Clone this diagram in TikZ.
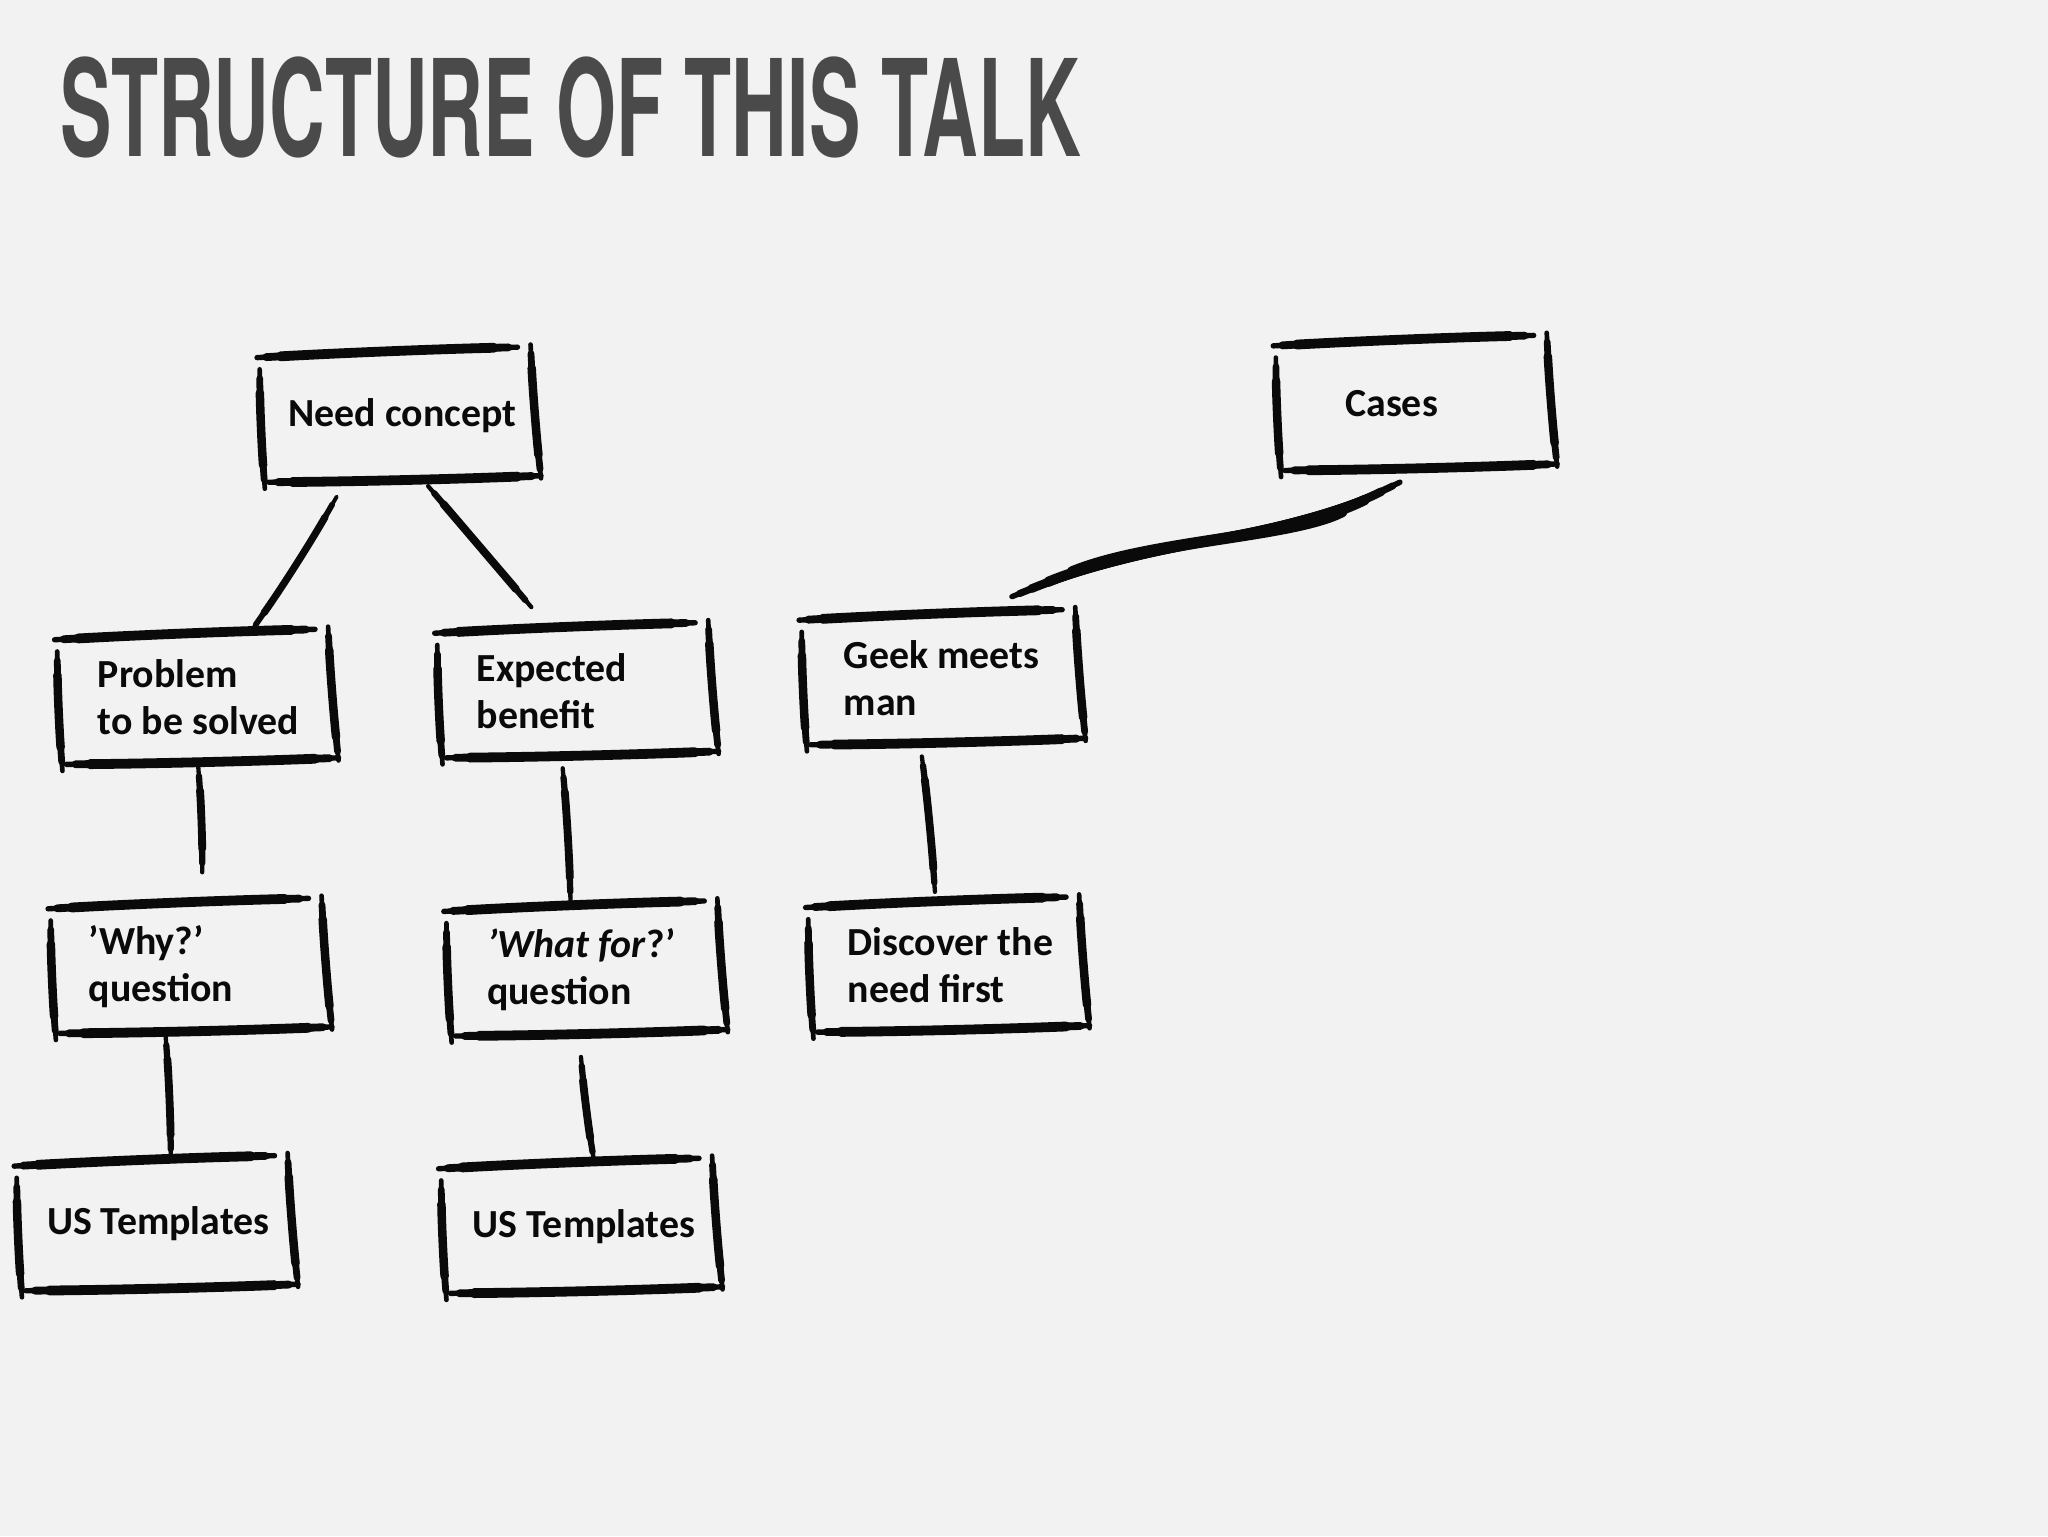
\documentclass[tikz,border=0pt]{standalone}
\usepackage{fontspec}
\setmainfont{Carlito}
\newfontfamily\titlefont{TeX Gyre Heros}
\usetikzlibrary{calc}
\definecolor{bg}{HTML}{F2F2F2}
\definecolor{ink}{HTML}{0A0A0A}
\definecolor{titlegray}{HTML}{4A4A4A}
\newcommand\boxfont{\fontsize{30.5}{36}\selectfont\bfseries}
\makeatletter
\newcommand\sln[1]{\mbox{\spaceskip\z@skip\xspaceskip\z@skip #1}}
\makeatother
% hand-drawn tapered stroke: #1 start, #2 end, #3 bend, #4 max width
\newcommand\skl[4]{%
  \pgfmathsetmacro\wa{#4*0.55}\pgfmathsetmacro\wb{#4*0.8}%
  \foreach \w/\s in {\wa/0, \wb/7, #4/18}{%
    \draw[ink, line width=\w pt, line cap=round, shorten <=\s pt, shorten >=\s pt]
      (#1) .. controls ($(#1)!0.33!(#2)!#3pt!90:(#2)$) and ($(#1)!0.67!(#2)!#3pt!90:(#2)$) .. (#2);
  }%
}
\newcommand\skbox[1]{%
  \coordinate (#1-t1) at ($(#1.north west)+(-1,6)$);
  \coordinate (#1-t2) at ($(#1.north east)+(-16,-2)$);
  \coordinate (#1-l1) at ($(#1.north west)+(1,15)$);
  \coordinate (#1-l2) at ($(#1.south west)+(5,6)$);
  \coordinate (#1-r1) at ($(#1.north east)+(-6,-4)$);
  \coordinate (#1-r2) at ($(#1.south east)+(2,-2)$);
  \coordinate (#1-b1) at ($(#1.south west)+(8,1)$);
  \coordinate (#1-b2) at ($(#1.south east)+(2,-4)$);
  \skl{#1-t1}{#1-t2}{1}{7.5}
  \skl{#1-l1}{#1-l2}{-1}{6.5}
  \skl{#1-r1}{#1-r2}{-1}{6.5}
  \skl{#1-b1}{#1-b2}{-1}{7.5}
}
\tikzset{
  skb/.style 2 args={inner xsep=#1, inner ysep=0pt, text width=#2, align=left,
    minimum height=100pt, font=\boxfont, text=ink},
}
\begin{document}
\begin{tikzpicture}[x=1pt,y=-1pt]
\useasboundingbox (0,0) rectangle (1568,1176);
\fill[bg] (0,0) rectangle (1568,1176);

\node[anchor=west, inner sep=0pt, text=titlegray] (title) at (46,82)
  {\scalebox{0.573}[1]{\titlefont\fontsize{103}{110}\selectfont\bfseries STRUCTURE OF THIS TALK}};

\node[skb={23pt}{168pt}] (nc) at (305,318) {\sln{Need concept}};
\node[skb={54pt}{106pt}] (cases) at (1083,309) {\sln{Cases}};
\node[skb={32pt}{150pt}] (problem) at (150,534) {\sln{Problem}\\\sln{to be solved}};
\node[skb={31pt}{152pt}] (expected) at (441,529) {\sln{Expected}\\\sln{benefit}};
\node[skb={33pt}{150pt}] (geek) at (721,519) {\sln{Geek meets}\\\sln{man}};
\node[skb={30pt}{154pt}] (why) at (145,740) {\sln{’Why?’}\\\sln{question}};
\node[skb={32pt}{150pt}] (whatfor) at (448,742) {\sln{\textit{’What for}?’}\\\sln{question}};
\node[skb={31pt}{152pt}] (discover) at (725,739) {\sln{Discover the}\\\sln{need first}};
\node[skb={24pt}{166pt}] (us1) at (119,937) {\sln{US Templates}};
\node[skb={25pt}{164pt}] (us2) at (444,939) {\sln{US Templates}};

\foreach \n in {nc,cases,problem,expected,geek,why,whatfor,discover,us1,us2}{\skbox{\n}}

% connectors
\coordinate (c1a) at ($(nc.south west)+(60,12)$);
\coordinate (c1b) at ($(problem.north west)+(149,0)$);
\skl{c1a}{c1b}{2}{5.5}
\coordinate (c2a) at ($(nc.south west)+(130,4)$);
\coordinate (c2b) at ($(expected.north west)+(73,-14)$);
\skl{c2a}{c2b}{0}{6}
\coordinate (c3a) at ($(problem.south west)+(109,3)$);
\coordinate (c3b) at ($(why.north west)+(117,-22)$);
\skl{c3a}{c3b}{1}{6}
\coordinate (c4a) at ($(expected.south west)+(97,9)$);
\coordinate (c4b) at ($(whatfor.north west)+(96,-2)$);
\skl{c4a}{c4b}{1}{6}
\coordinate (c5a) at ($(geek.south west)+(93,10)$);
\coordinate (c5b) at ($(discover.north west)+(98,-6)$);
\skl{c5a}{c5b}{1}{6}
\coordinate (c6a) at ($(why.south west)+(89,3)$);
\coordinate (c6b) at ($(us1.north west)+(119,0)$);
\skl{c6a}{c6b}{1}{6}
\coordinate (c7a) at ($(whatfor.south west)+(104,17)$);
\coordinate (c7b) at ($(us2.north west)+(118,0)$);
\skl{c7a}{c7b}{-1}{6}
% Cases -> Geek meets man (S-curve)
\coordinate (c8a) at ($(cases.south west)+(96,10)$);
\coordinate (c8b) at ($(geek.north west)+(162,-12)$);
\foreach \w/\s in {4.2/0, 5.4/6, 6.6/16, 7.8/30, 8.8/50}{%
  \draw[ink, line width=\w pt, line cap=round, shorten <=\s pt, shorten >=\s pt]
    (c8a) .. controls +(-83,42) and +(105,-43) .. (c8b);
}
\end{tikzpicture}
\end{document}
